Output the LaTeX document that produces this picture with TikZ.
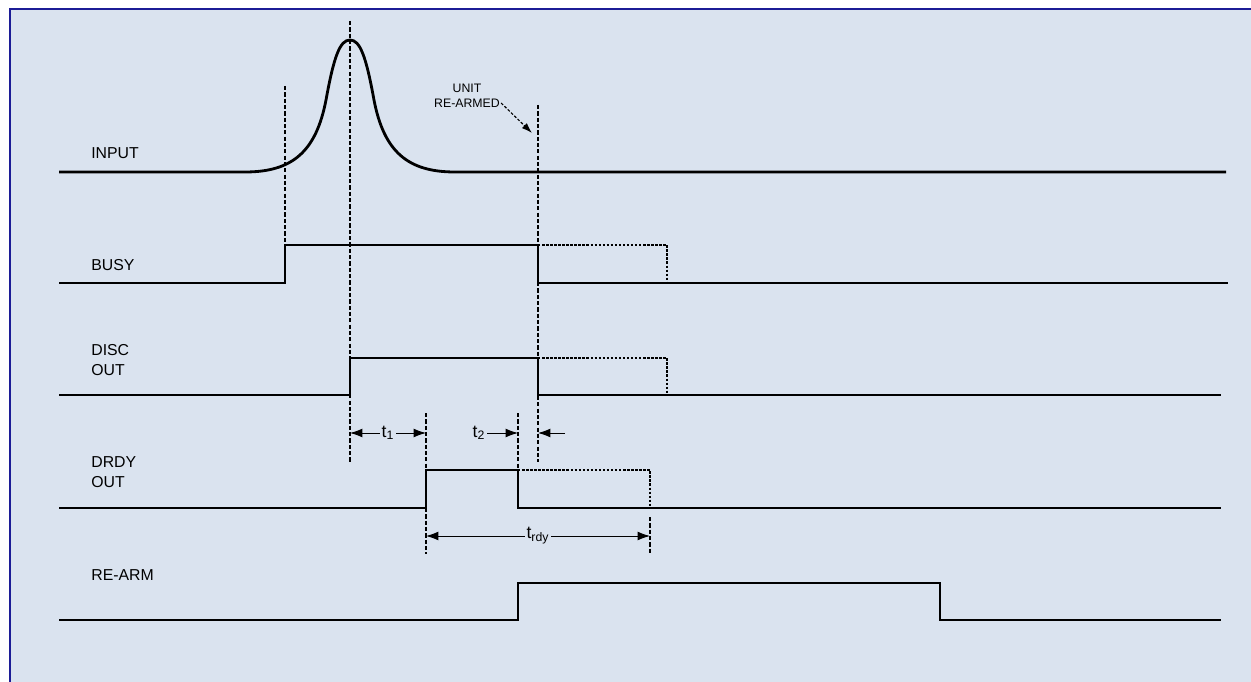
\documentclass[tikz,border=0pt]{standalone}
\usepackage{fontspec}
\setmainfont{Liberation Sans}
\definecolor{panelbg}{HTML}{DAE3EF}
\definecolor{paneledge}{HTML}{1C1C96}
\usetikzlibrary{arrows.meta,positioning,calc}

\begin{document}
\begin{tikzpicture}[
    x=0.02cm, y=-0.02cm,
    signal/.style={line width=1.6pt, black},
    ghost/.style={line width=1.4pt, black, dash pattern=on 1.4pt off 0.9pt},
    guide/.style={line width=0.65pt, black, dash pattern=on 2.4pt off 1.2pt},
    timing/.style={line width=0.5pt, {Latex[length=7pt,width=5pt]}-{Latex[length=7pt,width=5pt]}},
    lbl/.style={font=\fontsize{9}{11}\selectfont, anchor=west, align=left, inner sep=0pt},
    note/.style={font=\fontsize{7}{8.5}\selectfont, align=center, inner sep=0pt},
    tlbl/.style={fill=panelbg, font=\fontsize{10}{12}\selectfont, inner sep=1pt}
]
    \useasboundingbox (0,0) rectangle (1251,682);
    \fill[panelbg] (10,9) rectangle (1251,682);
    \draw[paneledge, line width=1.3pt] (1251,9) -- (10,9) -- (10,682);

    % signal names
    \node[lbl] (input) at (91,153) {INPUT};
    \node[lbl] (busy) at (91,265) {BUSY};
    \node[lbl] (disc) at (91,360) {DISC\\OUT};
    \node[lbl] (drdy) at (91,472) {DRDY\\OUT};
    \node[lbl] (rearm) at (91,575) {RE-ARM};

    % input pulse
    \draw[signal] (59,172) -- (245,172)
        .. controls (292,172) and (316,152) .. (326,100)
        .. controls (334,56) and (340,40) .. (350,40)
        .. controls (360,40) and (366,56) .. (374,100)
        .. controls (384,152) and (408,172) .. (455,172) -- (1226,172);

    % busy
    \draw[signal] (59,283) -- (285,283) -- (285,245) -- (538,245) -- (538,283) -- (1228,283);
    \draw[ghost] (538,245) -- (667,245) -- (667,283);

    % disc out
    \draw[signal] (59,395) -- (350,395) -- (350,358) -- (538,358) -- (538,395) -- (1221,395);
    \draw[ghost] (538,358) -- (667,358) -- (667,395);

    % drdy out
    \draw[signal] (59,508) -- (426,508) -- (426,470) -- (518,470) -- (518,508) -- (1221,508);
    \draw[ghost] (518,470) -- (650,470) -- (650,508);

    % re-arm
    \draw[signal] (59,620) -- (518,620) -- (518,583) -- (940,583) -- (940,620) -- (1221,620);

    % guide lines
    \draw[guide] (285,86) -- (285,245);
    \draw[guide] (350,21) -- (350,463);
    \draw[guide] (538,105) -- (538,462);
    \draw[guide] (426,413) -- (426,470);
    \draw[guide] (518,413) -- (518,470);
    \draw[guide] (426,508) -- (426,554);
    \draw[guide] (650,517) -- (650,554);

    % re-armed note
    \node[note] (armed) at (467,96) {UNIT\\RE-ARMED};
    \coordinate (armtip) at (532,133);
    \draw[guide, dash pattern=on 1.6pt off 1pt, -{Latex[length=6pt,width=4pt]}]
        ($(armed.south east)+(1,-5)$) -- (armtip);

    % timing marks
    \draw[timing] (350,433) -- node[tlbl] (t1) {t\textsubscript{1}} (426,433);
    \node[tlbl] (t2) at (479,433) {t\textsubscript{2}};
    \coordinate (t2end) at (518,433);
    \draw[line width=0.5pt, -{Latex[length=7pt,width=5pt]}] (t2.east) -- (t2end);
    \coordinate (t2back) at (565,433);
    \coordinate (t2edge) at (538,433);
    \draw[line width=0.5pt, -{Latex[length=7pt,width=5pt]}] (t2back) -- (t2edge);
    \draw[timing] (426,536) -- node[tlbl] (trdy) {t\textsubscript{rdy}} (650,536);
\end{tikzpicture}
\end{document}
